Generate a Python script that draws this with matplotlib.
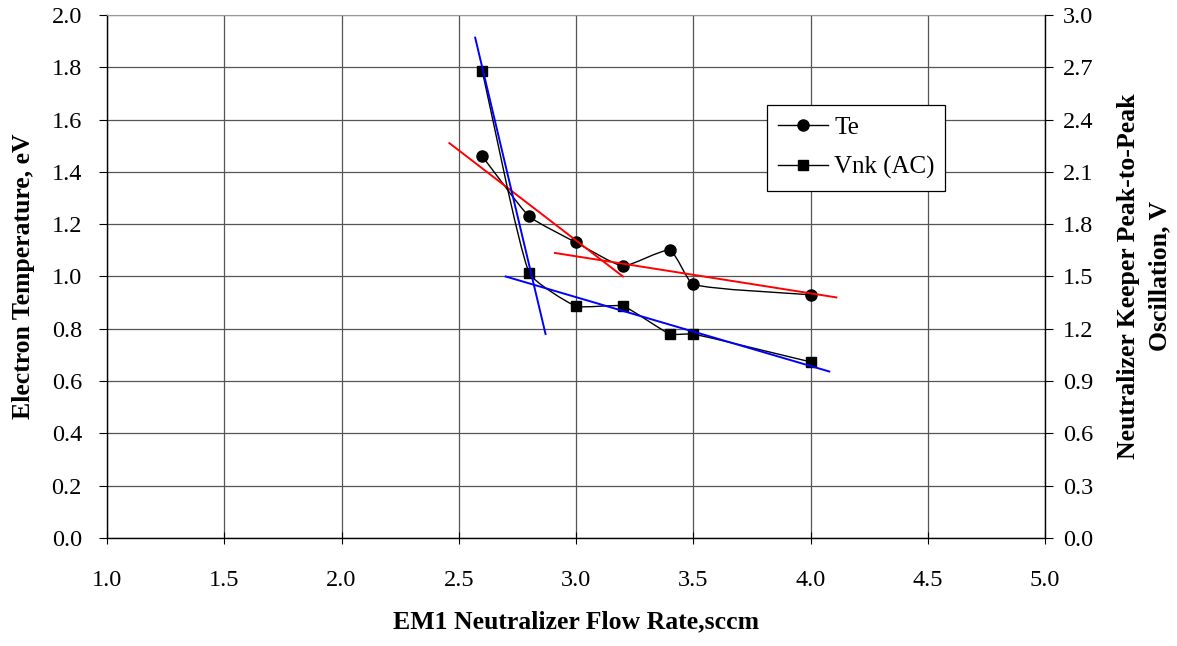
import numpy as np
import matplotlib.pyplot as plt
from matplotlib.path import Path
from matplotlib.patches import PathPatch
from matplotlib.lines import Line2D

plt.rcParams['font.family'] = ['Liberation Serif', 'DejaVu Serif']

# measured data
flow = [2.6, 2.8, 3.0, 3.2, 3.4, 3.5, 4.0]
te = [1.46, 1.23, 1.13, 1.04, 1.10, 0.97, 0.93]
vnk = [2.68, 1.52, 1.33, 1.33, 1.17, 1.17, 1.01]

# trend lines (endpoints)
te_fit1_x = [2.46, 3.20]
te_fit1_y = [1.51, 1.00]
te_fit2_x = [2.91, 4.11]
te_fit2_y = [1.09, 0.92]
vnk_fit1_x = [2.57, 2.87]
vnk_fit1_y = [2.87, 1.17]
vnk_fit2_x = [2.70, 4.08]
vnk_fit2_y = [1.50, 0.955]

x_ticks = np.arange(1.0, 5.01, 0.5)
left_ticks = np.arange(0.0, 2.01, 0.2)
right_ticks = np.arange(0.0, 3.01, 0.3)

TICK_FS = 17.5
LABEL_FS = 18.5


def smooth_path(axis, x, y, k=0.15):
    # smoothed line like excel's: bezier segments, tangents from neighbours,
    # control distance tied to each segment's own length (no overshoot)
    pts = axis.transData.transform(np.column_stack([x, y]).astype(float))
    n = len(pts)
    verts = [pts[0]]
    codes = [Path.MOVETO]

    def tangent(i):
        d = pts[min(i + 1, n - 1)] - pts[max(i - 1, 0)]
        return d / np.hypot(*d)

    for i in range(n - 1):
        p1, p2 = pts[i], pts[i + 1]
        seg = np.hypot(*(p2 - p1))
        c1 = p1 + tangent(i) * seg * k
        c2 = p2 - tangent(i + 1) * seg * k
        verts += [c1, c2, p2]
        codes += [Path.CURVE4] * 3
    verts = axis.transData.inverted().transform(np.array(verts))
    return Path(verts, codes)


fig = plt.figure(figsize=(11.77, 6.46), dpi=100)
ax = fig.add_axes([0.0909, 0.1672, 0.7970, 0.8096])
ax2 = ax.twinx()

ax.set_xlim(1.0, 5.0)
ax.set_ylim(0.0, 2.0)
ax2.set_ylim(0.0, 3.0)

ax.set_xticks(x_ticks)
ax.set_xticklabels([f"{v:.1f}" for v in x_ticks])
ax.set_yticks(left_ticks)
ax.set_yticklabels([f"{v:.1f}" for v in left_ticks])
ax2.set_yticks(right_ticks)
ax2.set_yticklabels([f"{v:.1f}" for v in right_ticks])

ax.grid(True, color="#555555", linewidth=0.9)
ax.set_axisbelow(True)
for s in ["left", "bottom"]:
    ax.spines[s].set_color("black")
    ax.spines[s].set_linewidth(1.0)
ax.spines["top"].set_color("#999999")
ax2.spines["top"].set_visible(False)
ax2.spines["left"].set_visible(False)
ax2.spines["bottom"].set_visible(False)
ax.spines["right"].set_visible(False)
ax2.spines["right"].set_linewidth(1.0)

ax.tick_params(axis="x", direction="inout", length=8, labelsize=TICK_FS, pad=19)
ax.tick_params(axis="y", direction="out", length=6, labelsize=TICK_FS, pad=12)
ax2.tick_params(axis="y", direction="out", length=6, labelsize=TICK_FS, pad=7)

# Te series on left axis
ax.add_patch(PathPatch(smooth_path(ax, flow, te), facecolor="none",
                       edgecolor="black", linewidth=1.0, zorder=3))
ax.plot(flow, te, linestyle="none", marker="o", markersize=8,
        color="black", zorder=4)
ax.plot(te_fit1_x, te_fit1_y, color="red", linewidth=1.4, zorder=5)
ax.plot(te_fit2_x, te_fit2_y, color="red", linewidth=1.4, zorder=5)

# Vnk series on right axis
ax2.add_patch(PathPatch(smooth_path(ax2, flow, vnk), facecolor="none",
                        edgecolor="black", linewidth=1.0, zorder=3))
ax2.plot(flow, vnk, linestyle="none", marker="s", markersize=7.5,
         color="black", zorder=4)
ax2.plot(vnk_fit1_x, vnk_fit1_y, color="blue", linewidth=1.4, zorder=5)
ax2.plot(vnk_fit2_x, vnk_fit2_y, color="blue", linewidth=1.4, zorder=5)

ax.set_xlabel("EM1 Neutralizer Flow Rate,sccm", fontsize=LABEL_FS,
              fontweight="bold", labelpad=14)
ax.set_ylabel("Electron Temperature, eV", fontsize=LABEL_FS, fontweight="bold",
              labelpad=12)
ax2.set_ylabel("Neutralizer Keeper Peak-to-Peak\nOscillation, V",
               fontsize=LABEL_FS, fontweight="bold", labelpad=17,
               linespacing=1.45)

handles = [
    Line2D([], [], color="black", marker="o", markersize=8, linewidth=1.0),
    Line2D([], [], color="black", marker="s", markersize=7.5, linewidth=1.0),
]
leg = ax2.legend(handles, ["Te", "Vnk (AC)"], loc="upper left",
                 bbox_to_anchor=(0.7035, 0.671, 0.19, 0.157), mode="expand",
                 fontsize=18, frameon=True, fancybox=False, edgecolor="black",
                 framealpha=1.0, handlelength=2.0, handletextpad=0.25,
                 borderpad=0.45, labelspacing=0.7, borderaxespad=0)
leg.get_frame().set_linewidth(0.9)

fig.savefig("out.png", dpi=100)
